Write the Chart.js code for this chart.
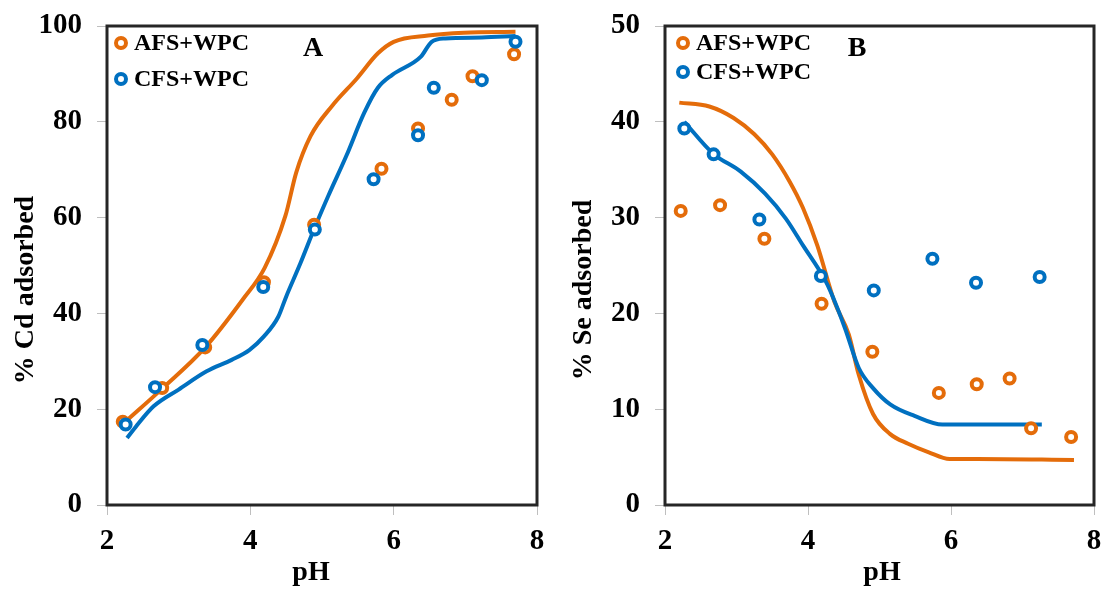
<!DOCTYPE html>
<html>
<head>
<meta charset="utf-8">
<script src="https://cdn.jsdelivr.net/npm/chart.js@4.4.1/dist/chart.umd.min.js"></script>
<style>
  html, body { margin: 0; padding: 0; background: #fff; }
  body { width: 1106px; height: 589px; position: relative; overflow: hidden; }
  canvas { position: absolute; top: 0; }
  #chartA { left: 0; }
  #chartB { left: 560px; }
</style>
</head>
<body>
<canvas id="chartA" width="560" height="589"></canvas>
<canvas id="chartB" width="546" height="589"></canvas>
<script>
// Series labels
const seriesNames = ['AFS+WPC', 'CFS+WPC'];

// Panel A - Cd, measured points
const cdAfsPH = [2.22, 2.77, 3.37, 4.19, 4.89, 5.83, 6.34, 6.81, 7.10, 7.68];
const cdAfsVal = [17.4, 24.4, 32.9, 46.5, 58.5, 70.2, 78.6, 84.6, 89.5, 94.1];
const cdCfsPH = [2.26, 2.67, 3.33, 4.18, 4.90, 5.72, 6.34, 6.56, 7.23, 7.70];
const cdCfsVal = [16.8, 24.6, 33.4, 45.5, 57.5, 68.0, 77.2, 87.1, 88.7, 96.7];

// Panel A - model curves
const cdAfsFitPH = [2.25, 2.77, 3.37, 3.9, 4.2, 4.49, 4.64, 4.84, 5.14, 5.49, 5.78, 6.0, 6.48, 6.98, 7.7];
const cdAfsFitVal = [17.3, 24.3, 32.9, 43.0, 49.5, 60.4, 69.4, 77.0, 83.3, 89.1, 94.3, 96.7, 98.0, 98.6, 98.8];
const cdCfsFitPH = [2.28, 2.4, 2.65, 3.0, 3.39, 3.74, 3.99, 4.19, 4.39, 4.5, 4.7, 4.89, 5.09, 5.34, 5.59, 5.78, 5.98, 6.38, 6.53, 6.72, 7.23, 7.7];
const cdCfsFitVal = [14.0, 16.3, 20.6, 24.1, 27.9, 30.3, 32.4, 35.2, 39.3, 43.5, 50.5, 57.6, 64.6, 72.9, 81.9, 87.1, 89.8, 93.6, 96.7, 97.4, 97.6, 97.9];

// Panel B - Se, measured points
const seAfsPH = [2.22, 2.77, 3.39, 4.19, 4.90, 5.83, 6.36, 6.82, 7.12, 7.68];
const seAfsVal = [30.7, 31.3, 27.8, 21.0, 16.0, 11.7, 12.6, 13.2, 8.0, 7.1];
const seCfsPH = [2.27, 2.68, 3.32, 4.18, 4.92, 5.74, 6.35, 7.24];
const seCfsVal = [39.3, 36.6, 29.8, 23.9, 22.4, 25.7, 23.2, 23.8];

// Panel B - model curves
const seAfsFitPH = [2.2, 2.62, 2.96, 3.25, 3.5, 3.74, 3.93, 4.13, 4.37, 4.57, 4.71, 4.91, 5.15, 5.40, 5.69, 5.98, 6.37, 7.72];
const seAfsFitVal = [42.0, 41.6, 40.4, 38.7, 36.6, 33.8, 31.0, 27.1, 21.2, 17.8, 13.6, 9.5, 7.4, 6.4, 5.5, 4.8, 4.8, 4.7];
const seCfsFitPH = [2.27, 2.67, 3.06, 3.40, 3.69, 3.93, 4.23, 4.32, 4.52, 4.71, 4.91, 5.15, 5.49, 5.88, 6.13, 7.27];
const seCfsFitVal = [40.0, 36.7, 34.8, 32.5, 29.9, 27.1, 23.6, 22.2, 18.4, 14.3, 12.2, 10.5, 9.3, 8.4, 8.4, 8.4];

const ORANGE = '#E46C0A';
const BLUE = '#0070C0';
const SERIF = '"Liberation Serif", "Times New Roman", serif';

const toPoints = (xs, ys) => xs.map((x, i) => ({ x: x, y: ys[i] }));

// box, panel letter, legend and axis titles
const panelDecor = {
    id: 'panelDecor',
    afterDatasetsDraw(chart, args, opts) {
        const { ctx, chartArea: a } = chart;
        ctx.save();
        ctx.strokeStyle = '#262626';
        ctx.lineWidth = 3;
        ctx.strokeRect(a.left, a.top, a.right - a.left, a.bottom - a.top);

        ctx.fillStyle = '#000';
        ctx.textBaseline = 'middle';
        ctx.textAlign = 'center';
        ctx.font = 'bold 28px ' + SERIF;
        ctx.fillText(opts.letter, a.left + opts.letterX, a.top + opts.letterY);

        // legend (markers only)
        ctx.textAlign = 'left';
        ctx.font = 'bold 24px ' + SERIF;
        opts.legendRows.forEach((rowY, i) => {
            const ds = chart.data.datasets[i];
            const mx = a.left + opts.legendX;
            const my = a.top + rowY;
            ctx.beginPath();
            ctx.arc(mx, my, 5, 0, Math.PI * 2);
            ctx.strokeStyle = ds.borderColor;
            ctx.lineWidth = 4;
            ctx.stroke();
            ctx.fillStyle = '#000';
            ctx.fillText(ds.label, mx + 13, my + 1);
        });

        // axis titles
        ctx.font = 'bold 28px ' + SERIF;
        ctx.textAlign = 'center';
        ctx.fillText(opts.xTitle, opts.xTitleX, opts.xTitleY);
        ctx.translate(opts.yTitleX, opts.yTitleY);
        ctx.rotate(-Math.PI / 2);
        ctx.fillText(opts.yTitle, 0, 0);
        ctx.restore();
    }
};

function makePanel(canvasId, pts, fits, yMax, yStep, decor, yAxisWidth, padRight) {
    const datasets = [
        {
            label: seriesNames[0], data: pts[0], borderColor: ORANGE, backgroundColor: '#fff',
            pointRadius: 5, pointBorderWidth: 4, showLine: false, order: 2
        },
        {
            label: seriesNames[1], data: pts[1], borderColor: BLUE, backgroundColor: '#fff',
            pointRadius: 5, pointBorderWidth: 4, showLine: false, order: 1
        },
        {
            label: seriesNames[0] + ' model', data: fits[0], borderColor: ORANGE, borderWidth: 4,
            pointRadius: 0, showLine: true, cubicInterpolationMode: 'monotone', order: 4
        },
        {
            label: seriesNames[1] + ' model', data: fits[1], borderColor: BLUE, borderWidth: 4,
            pointRadius: 0, showLine: true, cubicInterpolationMode: 'monotone', order: 3
        }
    ];
    return new Chart(document.getElementById(canvasId), {
        type: 'scatter',
        data: { datasets: datasets },
        plugins: [panelDecor],
        options: {
            responsive: false,
            animation: false,
            layout: { padding: { left: 0, right: padRight, top: 26, bottom: 0 } },
            plugins: {
                legend: { display: false },
                tooltip: { enabled: false },
                panelDecor: decor
            },
            scales: {
                x: {
                    type: 'linear', min: 2, max: 8,
                    ticks: { stepSize: 2, color: '#000', padding: 9, font: { family: SERIF, size: 29, weight: 'bold' } },
                    grid: { drawOnChartArea: false, drawTicks: true, tickLength: 10, color: '#bfbfbf' },
                    border: { display: false },
                    afterFit(scale) {
                        scale.height = 84;
                        scale.paddingLeft = 0;
                        scale.paddingRight = 0;
                    }
                },
                y: {
                    min: 0, max: yMax,
                    ticks: { stepSize: yStep, color: '#000', padding: 15, font: { family: SERIF, size: 29, weight: 'bold' } },
                    grid: { drawOnChartArea: false, drawTicks: true, tickLength: 10, color: '#bfbfbf' },
                    border: { display: false },
                    afterFit(scale) {
                        scale.width = yAxisWidth;
                        scale.paddingTop = 0;
                        scale.paddingBottom = 0;
                    }
                }
            }
        }
    });
}

makePanel('chartA',
    [toPoints(cdAfsPH, cdAfsVal), toPoints(cdCfsPH, cdCfsVal)],
    [toPoints(cdAfsFitPH, cdAfsFitVal), toPoints(cdCfsFitPH, cdCfsFitVal)],
    100, 20,
    {
        letter: 'A', letterX: 206, letterY: 23,
        legendX: 14, legendRows: [17, 53],
        xTitle: 'pH', xTitleX: 311, xTitleY: 573,
        yTitle: '% Cd adsorbed', yTitleX: 26, yTitleY: 290
    },
    107, 23);

makePanel('chartB',
    [toPoints(seAfsPH, seAfsVal), toPoints(seCfsPH, seCfsVal)],
    [toPoints(seAfsFitPH, seAfsFitVal), toPoints(seCfsFitPH, seCfsFitVal)],
    50, 10,
    {
        letter: 'B', letterX: 192, letterY: 23,
        legendX: 18, legendRows: [17, 46],
        xTitle: 'pH', xTitleX: 322, xTitleY: 573,
        yTitle: '% Se adsorbed', yTitleX: 24, yTitleY: 290
    },
    105, 12);
</script>
</body>
</html>
